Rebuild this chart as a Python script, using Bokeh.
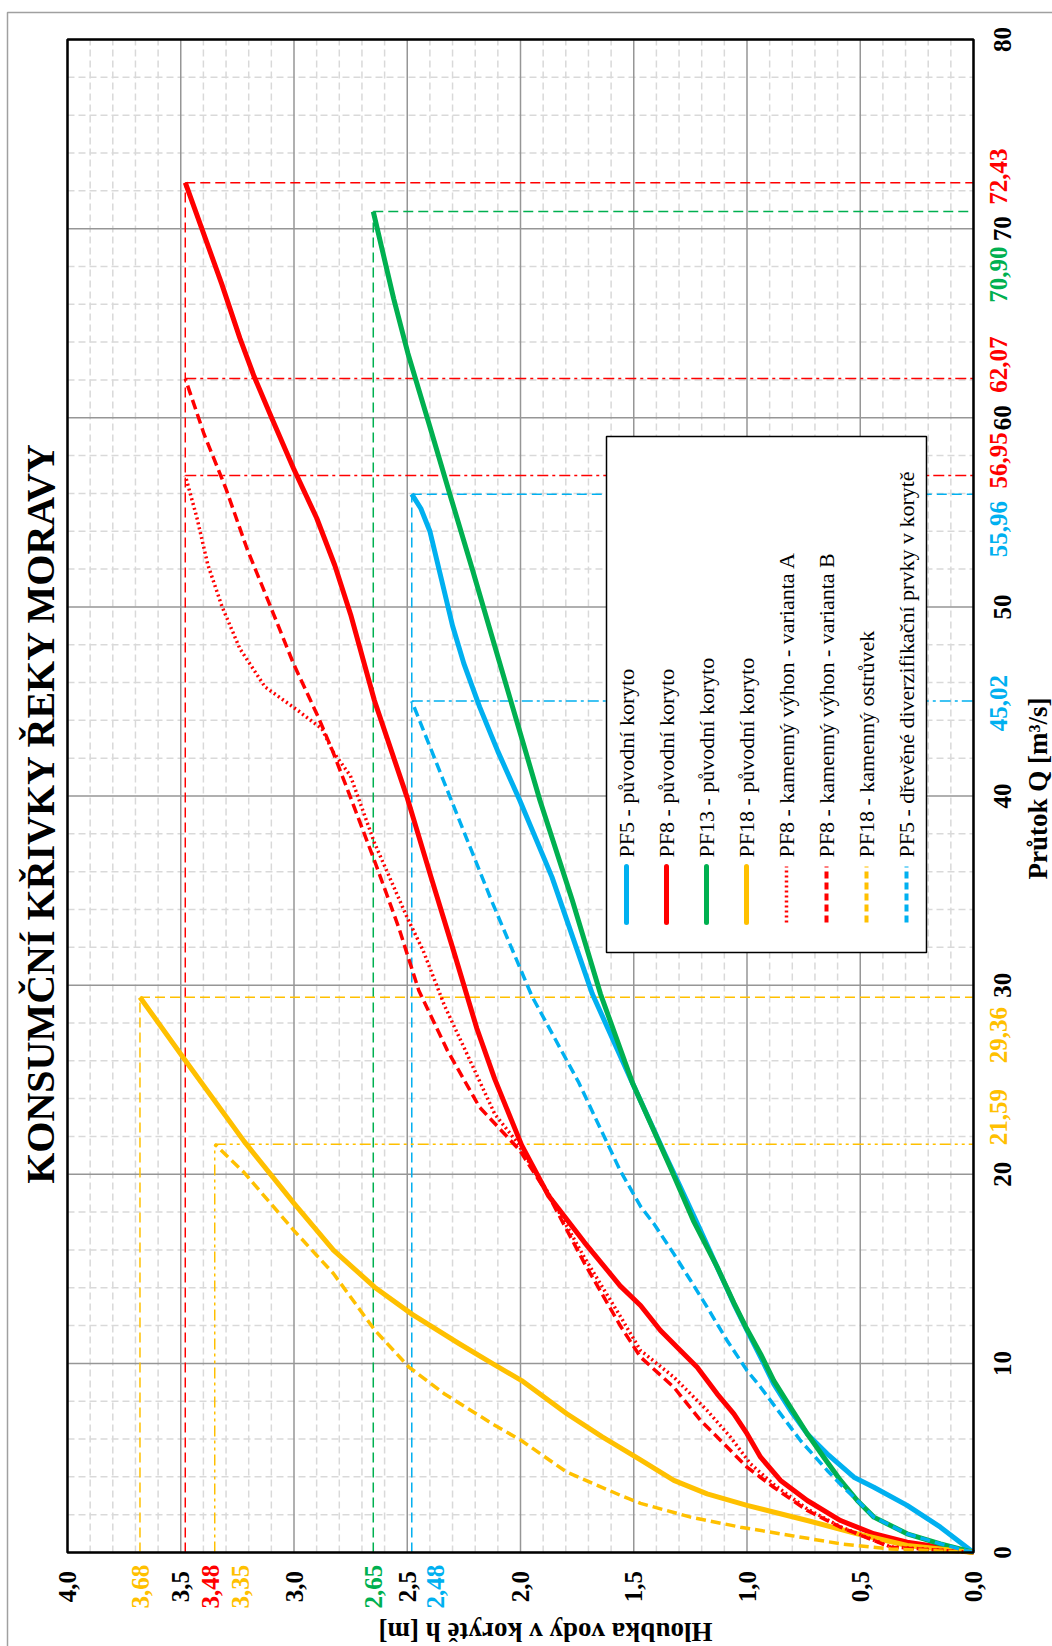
from math import pi
import numpy as np
from bokeh.plotting import figure
from bokeh.models import Range1d, Label
from bokeh.embed import file_html
from bokeh.resources import INLINE

# ---------------- data (h = depth [m], Q = discharge [m3/s]) ----------------
pf5_h = [0, 0.146, 0.293, 0.44, 0.528, 0.646, 0.734, 0.808, 0.882, 0.94, 1.0, 1.058, 1.132,
         1.205, 1.294, 1.36, 1.504, 1.683, 1.861, 2.003, 2.10, 2.18, 2.25, 2.30, 2.35, 2.40, 2.44, 2.48]
pf5_q = [0, 1.34, 2.49, 3.45, 3.98, 5.22, 6.27, 7.51, 8.92, 10.33, 11.74, 13.15, 15.09,
         17.03, 19.32, 21.0, 24.78, 29.54, 35.71, 39.76, 42.36, 44.7, 47.0, 49.0, 51.5, 54.0, 55.2, 55.96]

pf8_h = [0, 0.146, 0.293, 0.44, 0.587, 0.734, 0.852, 0.94, 1.0, 1.058, 1.132, 1.22, 1.294, 1.382,
         1.47, 1.56, 1.718, 1.877, 1.995, 2.114, 2.193, 2.296, 2.395, 2.501, 2.645, 2.75, 2.82,
         2.90, 3.002, 3.097, 3.176, 3.239, 3.318, 3.397, 3.48]
pf8_q = [0, 0.28, 0.55, 0.99, 1.69, 2.75, 3.81, 5.04, 6.28, 7.33, 8.39, 9.8, 10.68, 11.74,
         13.06, 14.1, 16.4, 18.88, 21.54, 25.04, 27.72, 31.83, 35.71, 39.94, 45.05, 49.6, 52.2,
         54.7, 57.32, 59.95, 62.18, 64.21, 67.04, 69.67, 72.43]

pf13_h = [0, 0.146, 0.293, 0.44, 0.513, 0.587, 0.661, 0.734, 0.808, 0.882, 0.94, 1.0, 1.058,
          1.132, 1.237, 1.34, 1.504, 1.647, 1.771, 1.914, 1.976, 2.047, 2.118, 2.213, 2.308,
          2.402, 2.497, 2.56, 2.65]
pf13_q = [0, 0.46, 0.99, 1.87, 2.75, 3.81, 5.04, 6.28, 7.68, 9.09, 10.5, 11.8, 13.2,
          15.1, 17.55, 20.4, 24.78, 29.54, 34.47, 39.76, 42.3, 45.2, 48.1, 52.0, 55.8,
          59.6, 63.4, 66.3, 70.90]

pf18_h = [0, 0.293, 0.513, 0.734, 1.0, 1.176, 1.323, 1.47, 1.639, 1.797, 1.995, 2.114, 2.272,
          2.478, 2.644, 2.826, 3.0, 3.221, 3.483, 3.68]
pf18_q = [0, 0.37, 0.99, 1.69, 2.49, 3.10, 3.81, 4.9, 6.11, 7.35, 9.09, 9.92, 11.05,
          12.59, 14.03, 15.99, 18.46, 21.75, 26.07, 29.36]

pf8a_h = [0, 0.366, 0.587, 0.734, 0.882, 0.985, 1.073, 1.176, 1.323, 1.47, 1.56, 1.718, 1.877,
          2.019, 2.114, 2.216, 2.335, 2.43, 2.501, 2.645, 2.751, 2.829, 2.876, 2.986, 3.128,
          3.239, 3.318, 3.381, 3.428, 3.48]
pf8a_q = [0, 0.3, 1.36, 2.3, 3.6, 4.69, 6.10, 7.51, 9.27, 10.68, 12.5, 15.6, 19.0,
          21.75, 23.19, 25.84, 28.9, 31.83, 33.59, 37.53, 41.07, 42.36, 43.54, 44.55, 45.77,
          47.79, 50.02, 52.25, 54.68, 56.95]

pf8b_h = [0, 0.366, 0.587, 0.734, 0.882, 1.0, 1.102, 1.205, 1.323, 1.47, 1.56, 1.718, 1.877,
          2.003, 2.181, 2.323, 2.449, 2.538, 2.645, 2.751, 2.829, 2.892, 3.002, 3.097, 3.207,
          3.302, 3.397, 3.48]
pf8b_q = [0, 0.28, 1.34, 2.22, 3.45, 4.51, 5.75, 6.98, 8.74, 10.33, 12.0, 15.3, 18.9,
          21.26, 23.55, 26.55, 29.72, 33.06, 36.59, 39.94, 42.36, 44.15, 46.99, 49.82, 53.06,
          56.3, 59.13, 62.07]

pf18b_h = [0, 0.366, 0.587, 0.808, 1.029, 1.249, 1.47, 1.56, 1.797, 1.995, 2.114, 2.335, 2.494,
           2.644, 2.826, 3.0, 3.221, 3.35]
pf18b_q = [0, 0.19, 0.46, 0.90, 1.34, 1.87, 2.6, 3.03, 4.26, 5.91, 6.73, 8.38, 9.82,
           11.77, 14.75, 17.02, 20.1, 21.59]

pf5b_h = [0, 0.146, 0.293, 0.44, 0.513, 0.587, 0.646, 0.764, 0.852, 0.94, 1.0, 1.088, 1.176,
          1.249, 1.323, 1.411, 1.47, 1.56, 1.745, 1.949, 2.128, 2.305, 2.48]
pf5b_q = [0, 0.46, 0.99, 1.87, 2.75, 3.6, 4.34, 5.92, 7.33, 8.74, 9.62, 11.21, 12.97,
          14.38, 15.79, 17.38, 18.3, 20.2, 24.9, 29.4, 34.47, 39.76, 45.02]

legend_labels = ["PF5 - původní koryto", "PF8 - původní koryto", "PF13 - původní koryto",
                 "PF18 - původní koryto", "PF8 - kamenný výhon - varianta A",
                 "PF8 - kamenný výhon - varianta B", "PF18 - kamenný ostrůvek",
                 "PF5 - dřevěné diverzifikační prvky v korytě"]

# axis ticks
h_ticks = [4.0, 3.5, 3.0, 2.5, 2.0, 1.5, 1.0, 0.5, 0.0]
h_tick_labels = ["4,0", "3,5", "3,0", "2,5", "2,0", "1,5", "1,0", "0,5", "0,0"]
q_ticks = [0, 10, 20, 30, 40, 50, 60, 70, 80]
q_tick_labels = ["0", "10", "20", "30", "40", "50", "60", "70", "80"]

# end-point values
h_marks = [3.68, 3.48, 3.35, 2.65, 2.48]
h_mark_labels = ["3,68", "3,48", "3,35", "2,65", "2,48"]
q_marks = [72.43, 70.90, 62.07, 56.95, 55.96, 45.02, 29.36, 21.59]
q_mark_labels = ["72,43", "70,90", "62,07", "56,95", "55,96", "45,02", "29,36", "21,59"]

title_text = "KONSUMČNÍ KŘIVKY ŘEKY MORAVY"
x_title = "Hloubka vody v korytě h [m]"
y_title = "Průtok Q [m³/s]"

# ---------------- styling / layout ----------------
BLUE, RED, GREEN, YEL = "#00B0F0", "#FF0000", "#00B050", "#FFC000"
SERIF = "Liberation Serif"
W, H = 1052, 1646
PL, PT, PR, PB = 67, 39, 973, 1552          # plot area on the canvas (px)
H_MAX, Q_MAX = 4.0, 80.0


def hx(px):   # canvas x pixel -> h value
    return H_MAX * (PR - px) / (PR - PL)


def qy(py):   # canvas y pixel -> Q value
    return Q_MAX * (PB - py) / (PB - PT)


p = figure(width=W, height=H, x_range=Range1d(hx(0), hx(W)), y_range=Range1d(qy(H), qy(0)),
           output_backend="svg", toolbar_location=None, title_location=None,
           x_axis_location=None, y_axis_location=None, min_border=0,
           background_fill_color="white", border_fill_color="white",
           outline_line_color=None)
p.xgrid.visible = False
p.ygrid.visible = False

# outer chart border (grey)
p.line([hx(7), hx(7), hx(W + 5)], [qy(H + 5), qy(12), qy(12)], line_color="#A0A0A0", line_width=1.5)

# grid
h_minor = [v for v in np.round(np.arange(0, H_MAX + 0.001, 0.1), 2) if v not in h_ticks]
q_minor = [v for v in np.arange(0, Q_MAX + 0.1, 2) if v not in q_ticks]
p.segment(x0=h_minor, y0=0, x1=h_minor, y1=Q_MAX, line_color="#D9D9D9", line_width=1.5,
          line_dash="7 4")
p.segment(x0=H_MAX, y0=q_minor, x1=0, y1=q_minor, line_color="#D9D9D9", line_width=1.5,
          line_dash="7 4")
p.segment(x0=h_ticks, y0=0, x1=h_ticks, y1=Q_MAX, line_color="#969696", line_width=1.5)
p.segment(x0=H_MAX, y0=q_ticks, x1=0, y1=q_ticks, line_color="#969696", line_width=1.5)

# reference (end-point) lines
ref_w = 1.5
DASH = "10 5"
DD = "11 4 3 4"
DDD = "11 4 3 4 3 4"
p.line([3.48, 3.48], [0, 72.43], line_color=RED, line_width=ref_w, line_dash=DASH)
p.line([2.65, 2.65], [0, 70.90], line_color=GREEN, line_width=ref_w, line_dash=DASH)
p.line([2.48, 2.48], [0, 55.96], line_color=BLUE, line_width=ref_w, line_dash=DASH)
p.line([3.68, 3.68], [0, 29.36], line_color=YEL, line_width=ref_w, line_dash=DASH)
p.line([3.35, 3.35], [0, 21.59], line_color=YEL, line_width=ref_w, line_dash=DDD)
p.line([3.48, 0], [72.43, 72.43], line_color=RED, line_width=ref_w, line_dash=DASH)
p.line([3.48, 0], [62.07, 62.07], line_color=RED, line_width=ref_w, line_dash=DD)
p.line([3.48, 0], [56.95, 56.95], line_color=RED, line_width=ref_w, line_dash=DD)
p.line([2.65, 0], [70.90, 70.90], line_color=GREEN, line_width=ref_w, line_dash=DASH)
p.line([2.48, 0], [55.96, 55.96], line_color=BLUE, line_width=ref_w, line_dash=DASH)
p.line([2.48, 0], [45.02, 45.02], line_color=BLUE, line_width=ref_w, line_dash=DD)
p.line([3.68, 0], [29.36, 29.36], line_color=YEL, line_width=ref_w, line_dash=DASH)
p.line([3.35, 0], [21.59, 21.59], line_color=YEL, line_width=ref_w, line_dash=DDD)

# curves
series = [
    (pf5_h, pf5_q, BLUE, "solid", 5),
    (pf8_h, pf8_q, RED, "solid", 5),
    (pf13_h, pf13_q, GREEN, "solid", 5),
    (pf18_h, pf18_q, YEL, "solid", 5),
    (pf8a_h, pf8a_q, RED, "2 3", 3.5),
    (pf8b_h, pf8b_q, RED, "10 5", 3.5),
    (pf18b_h, pf18b_q, YEL, "10 5", 3.5),
    (pf5b_h, pf5b_q, BLUE, "10 5", 3.5),
]
for hs, qs, col, dash, w in series:
    p.line(hs, qs, line_color=col, line_width=w, line_dash=dash, line_join="round")

# plot-area outline
p.quad(left=H_MAX, right=0, bottom=0, top=Q_MAX, fill_color=None, line_color="black",
       line_width=2.5)

# legend box (drawn manually, rotated like the chart)
p.quad(left=hx(606), right=hx(926), top=qy(436), bottom=qy(952),
       fill_color="white", line_color="black", line_width=1.5)
leg_styles = [(BLUE, "solid", 5), (RED, "solid", 5), (GREEN, "solid", 5), (YEL, "solid", 5),
              (RED, "2 3", 3.5), (RED, "7 4", 4), (YEL, "7 4", 4), (BLUE, "7 4", 4)]
for i, (lab, (col, dash, w)) in enumerate(zip(legend_labels, leg_styles)):
    xc = hx(626 + 40 * i)
    p.line([xc, xc], [qy(922), qy(866)], line_color=col, line_width=w, line_dash=dash,
           line_cap="round" if dash == "solid" else "butt")
    p.add_layout(Label(x=xc, y=qy(857), text=lab, angle=pi / 2, text_align="left",
                       text_baseline="middle", text_font=SERIF, text_font_size="22px",
                       text_color="black"))


def vlabel(x, y, text, color="black", size="25px", angle=pi / 2, bold=True):
    p.add_layout(Label(x=x, y=y, text=text, angle=angle, text_align="center",
                       text_baseline="middle", text_font=SERIF,
                       text_font_style="bold" if bold else "normal",
                       text_font_size=size, text_color=color))


# tick labels
for v, t in zip(h_ticks, h_tick_labels):
    vlabel(v, qy(1586), t)
for v, t in zip(q_ticks, q_tick_labels):
    vlabel(hx(1002), v, t)

# coloured end-point labels on the h axis
h_cols = [YEL, RED, YEL, GREEN, BLUE]
h_shift = [1, 25, 26, 0, 24]          # px shift to the right
for v, t, c, s in zip(h_marks, h_mark_labels, h_cols, h_shift):
    vlabel(v - s * H_MAX / (PR - PL), qy(1586), t, c)

# coloured end-point labels on the Q axis
q_cols = [RED, GREEN, RED, RED, BLUE, BLUE, YEL, YEL]
q_shift = [-6, 63, -14, -15, 35, 2, 38, -27]   # px shift downwards
for v, t, c, s in zip(q_marks, q_mark_labels, q_cols, q_shift):
    vlabel(hx(998), v - s * Q_MAX / (PB - PT), t, c)

# axis titles and chart title
vlabel(hx(545), qy(1631), x_title, size="27px", angle=pi)
vlabel(hx(1037), qy(788), y_title, size="27px")
vlabel(hx(40), qy(812), title_text, size="40px")

open("out.html", "w").write(file_html(p, INLINE))
